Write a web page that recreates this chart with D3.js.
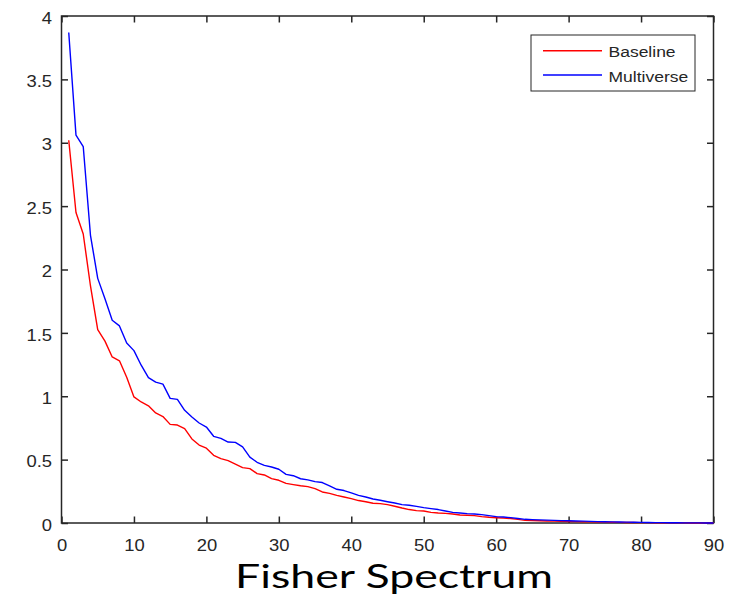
<!DOCTYPE html>
<html>
<head>
<meta charset="utf-8">
<script src="https://cdn.jsdelivr.net/npm/d3@7"></script>
<style>
  html, body { margin: 0; padding: 0; background: #fff; }
  svg { display: block; }
  .tick-lbl { font-family: "Liberation Sans", Arial, sans-serif; font-size: 16px; fill: #262626; }
</style>
</head>
<body>
<div id="chart"></div>
<script>
// ── Data ────────────────────────────────────────────────────────────────
const seriesNames = ['Baseline', 'Multiverse'];
const seriesColors = ['#ff0000', '#0000ff'];

const baseline = [
  3.02, 2.45, 2.28, 1.87, 1.525, 1.435, 1.31, 1.28, 1.15, 0.995,
  0.955, 0.925, 0.868, 0.84, 0.778, 0.773, 0.745, 0.663, 0.615, 0.59,
  0.534, 0.508, 0.492, 0.465, 0.437, 0.429, 0.39, 0.379, 0.35, 0.337,
  0.313, 0.303, 0.294, 0.287, 0.271, 0.245, 0.234, 0.218, 0.205, 0.192,
  0.177, 0.168, 0.156, 0.153, 0.145, 0.132, 0.118, 0.106, 0.098, 0.095,
  0.084, 0.079, 0.076, 0.071, 0.063, 0.061, 0.058, 0.05, 0.045, 0.042,
  0.04, 0.035, 0.029, 0.021, 0.019, 0.018, 0.016, 0.015, 0.013, 0.012,
  0.011, 0.010, 0.009, 0.008, 0.007, 0.006, 0.005, 0.004, 0.004, 0.003,
  0.003, 0.002, 0.002, 0.001, 0.001, 0.001, 0.0005, 0.0003, 0.0002, 0.0001
];

const multiverse = [
  3.87, 3.06, 2.97, 2.27, 1.93, 1.77, 1.60, 1.555, 1.42, 1.36,
  1.245, 1.147, 1.112, 1.096, 0.983, 0.975, 0.889, 0.836, 0.789, 0.757,
  0.684, 0.668, 0.639, 0.636, 0.60, 0.52, 0.479, 0.455, 0.442, 0.424,
  0.384, 0.373, 0.349, 0.34, 0.326, 0.319, 0.292, 0.266, 0.256, 0.237,
  0.218, 0.205, 0.189, 0.179, 0.168, 0.158, 0.145, 0.14, 0.131, 0.121,
  0.113, 0.106, 0.095, 0.084, 0.079, 0.074, 0.071, 0.066, 0.058, 0.05,
  0.047, 0.042, 0.035, 0.029, 0.027, 0.025, 0.023, 0.021, 0.019, 0.018,
  0.016, 0.015, 0.013, 0.011, 0.010, 0.009, 0.008, 0.007, 0.006, 0.005,
  0.004, 0.003, 0.003, 0.002, 0.002, 0.001, 0.001, 0.001, 0.0005, 0.0003
];

const xTicks = [0, 10, 20, 30, 40, 50, 60, 70, 80, 90];
const yTicks = [0, 0.5, 1, 1.5, 2, 2.5, 3, 3.5, 4];
const xLabel = 'Fisher Spectrum';

// ── Layout ──────────────────────────────────────────────────────────────
const W = 731, H = 603;
const plot = { left: 61.5, right: 713.5, top: 16, bottom: 523 };
const axisCol = '#262626';
const stretch = 1.15;   // glyphs in the reference are drawn a bit wide

const svg = d3.select('#chart').append('svg')
  .attr('width', W).attr('height', H);

const x = d3.scaleLinear().domain([0, 90]).range([plot.left, plot.right]);
const y = d3.scaleLinear().domain([0, 4]).range([plot.bottom, plot.top]);

// ── Axes (boxed, ticks pointing inward) ─────────────────────────────────
function styleAxis(g) {
  g.select('.domain').remove();
  g.selectAll('.tick line').attr('stroke', axisCol).attr('stroke-width', 1.5);
  g.selectAll('.tick text').attr('class', 'tick-lbl').attr('fill', axisCol);
}

const gx = svg.append('g')
  .attr('transform', `translate(0,${plot.bottom})`)
  .call(d3.axisBottom(x).tickValues(xTicks).tickSizeInner(-6.5).tickSizeOuter(0).tickPadding(17))
  .call(styleAxis);
gx.selectAll('.tick text').attr('transform', `scale(${stretch},1)`);

const gy = svg.append('g')
  .attr('transform', `translate(${plot.left},0)`)
  .call(d3.axisLeft(y).tickValues(yTicks).tickSizeInner(-6.5).tickSizeOuter(0).tickPadding(9.5)
    .tickFormat(d3.format('')))
  .call(styleAxis);
gy.selectAll('.tick text')
  .attr('x', -9.5 / stretch)
  .attr('dy', '0.45em')
  .attr('transform', `scale(${stretch},1)`);

svg.append('g')
  .attr('transform', `translate(0,${plot.top})`)
  .call(d3.axisTop(x).tickValues(xTicks).tickSizeInner(-6.5).tickSizeOuter(0).tickFormat(''))
  .call(styleAxis);

svg.append('g')
  .attr('transform', `translate(${plot.right},0)`)
  .call(d3.axisRight(y).tickValues(yTicks).tickSizeInner(-6.5).tickSizeOuter(0).tickFormat(''))
  .call(styleAxis);

// box
svg.append('rect')
  .attr('x', plot.left).attr('y', plot.top)
  .attr('width', plot.right - plot.left).attr('height', plot.bottom - plot.top)
  .attr('fill', 'none').attr('stroke', axisCol).attr('stroke-width', 1.5);

// ── Lines ───────────────────────────────────────────────────────────────
const line = d3.line()
  .x((d, i) => x(i + 1))
  .y(d => y(d));

[baseline, multiverse].forEach((vals, k) => {
  svg.append('path')
    .datum(vals)
    .attr('fill', 'none')
    .attr('stroke', seriesColors[k])
    .attr('stroke-width', 1.4)
    .attr('stroke-linejoin', 'round')
    .attr('d', line);
});

// ── Legend ──────────────────────────────────────────────────────────────
const leg = svg.append('g').attr('transform', 'translate(531,35)');
leg.append('rect')
  .attr('width', 164).attr('height', 56)
  .attr('fill', '#fff').attr('stroke', axisCol).attr('stroke-width', 1);

seriesNames.forEach((name, k) => {
  const cy = 15.7 + k * 24.3;
  leg.append('line')
    .attr('x1', 12).attr('x2', 71)
    .attr('y1', cy).attr('y2', cy)
    .attr('stroke', seriesColors[k]).attr('stroke-width', 1.4);
  leg.append('text')
    .attr('class', 'tick-lbl')
    .style('font-size', '15.5px')
    .attr('transform', `translate(77.5,${cy + 6.5}) scale(1.13,1)`)
    .text(name);
});

// ── X label ─────────────────────────────────────────────────────────────
svg.append('text')
  .attr('x', 394).attr('y', 588)
  .attr('text-anchor', 'middle')
  .attr('font-family', 'Lato, "Open Sans", sans-serif')
  .attr('font-size', 32)
  .attr('fill', '#000')
  .attr('textLength', 318)
  .attr('lengthAdjust', 'spacingAndGlyphs')
  .text(xLabel);
</script>
</body>
</html>
